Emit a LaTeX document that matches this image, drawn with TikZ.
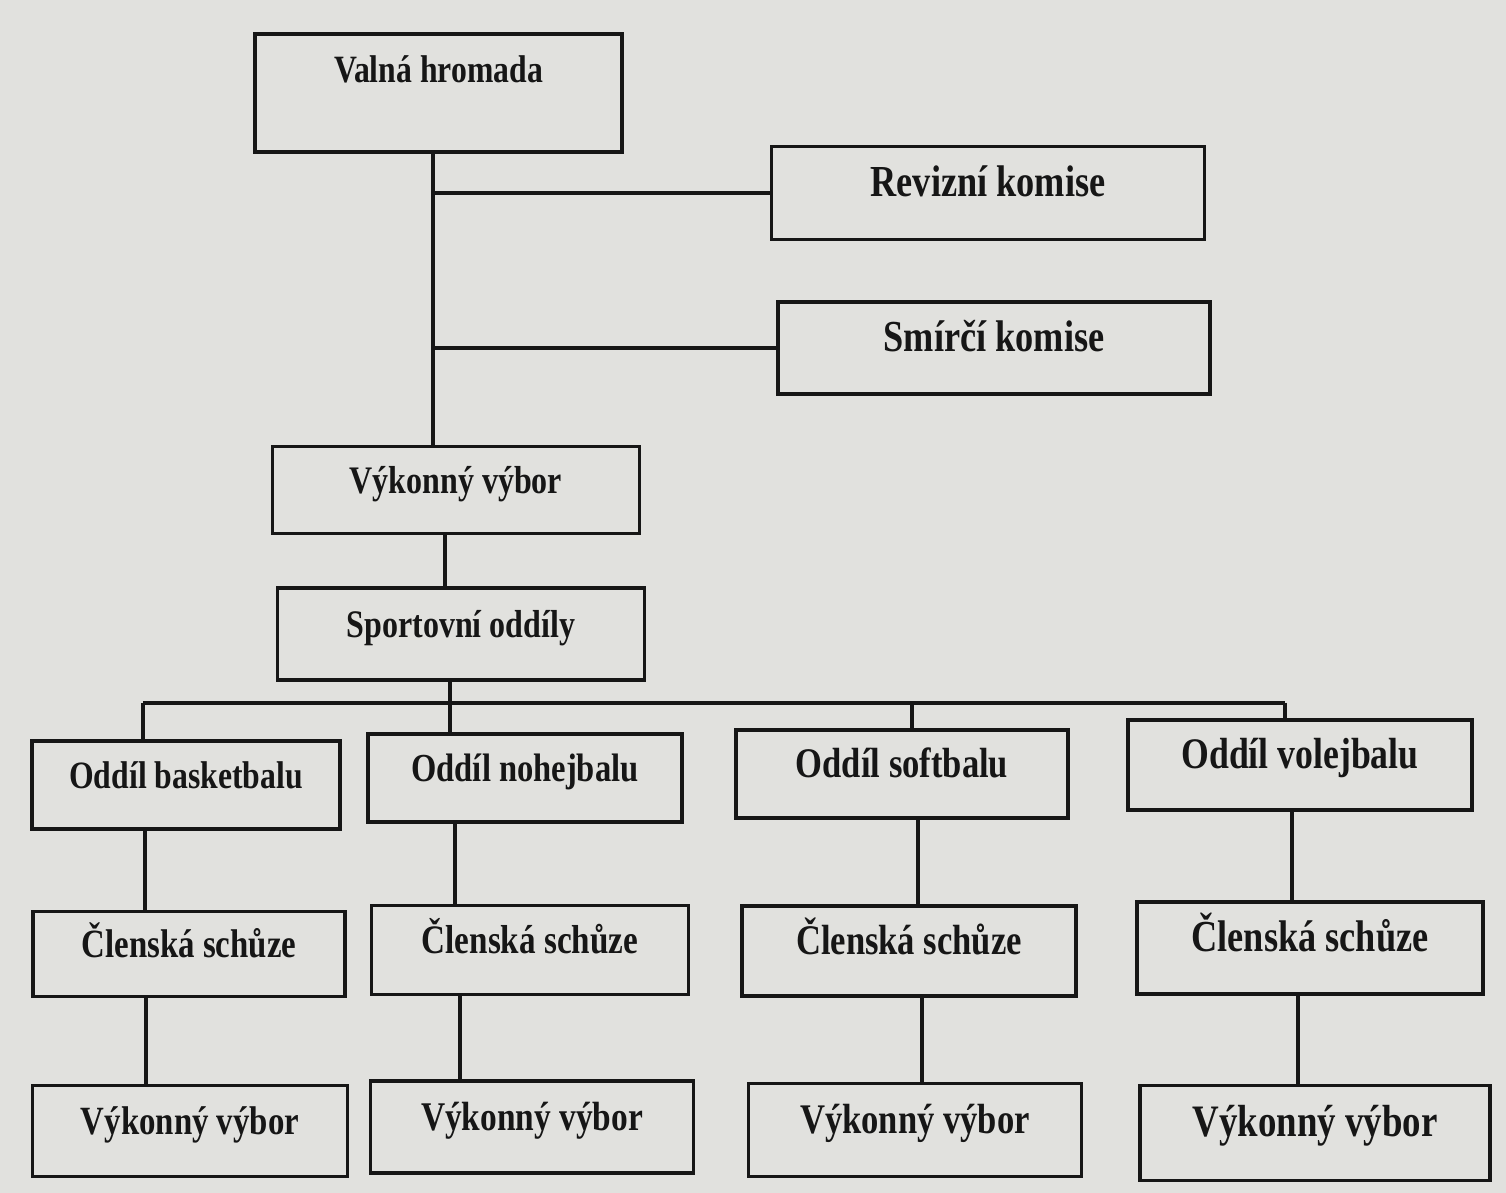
\documentclass[tikz,border=0pt]{standalone}
\usepackage{fontspec}
\setmainfont[FakeStretch=0.82]{Liberation Serif}
\definecolor{paper}{RGB}{225,225,222}
\definecolor{ink}{RGB}{22,22,22}
\tikzset{
  orgbox/.style={draw=ink, line width=1.1pt, rectangle, inner sep=0pt,
                 text=ink, text height=0.30cm, text depth=0.22cm,
                 font=\fontsize{11}{13}\selectfont\bfseries},
  fs/.style={font=\fontsize{#1}{#1}\selectfont\bfseries},
  boxtext/.style={inner sep=0pt, text=ink},
  link/.style={draw=ink, line width=1.1pt}
}
\begin{document}
\begin{tikzpicture}[x=1cm,y=1cm]
  % page
  \fill[paper] (0,0) rectangle (15.06,-11.93);
  \useasboundingbox (0,0) rectangle (15.06,-11.93);

  % top level
  \node[orgbox, minimum width=3.67cm, minimum height=1.18cm] (vh) at (4.385,-0.93) {};
  \node[boxtext, fs=11, anchor=base] (vhl) at ([yshift=-0.50cm]vh.north) {Valná hromada};
  \node[orgbox, fs=12.6, minimum width=4.33cm, minimum height=0.93cm] (rk) at (9.88,-1.93) {Revizní komise};
  \node[orgbox, fs=12.6, minimum width=4.32cm, minimum height=0.92cm] (sk) at (9.94,-3.48) {Smírčí komise};
  \node[orgbox, fs=11.1, minimum width=3.67cm, minimum height=0.87cm] (vv) at (4.56,-4.90) {Výkonný výbor};
  \node[orgbox, fs=11.1, minimum width=3.67cm, minimum height=0.92cm] (so) at (4.61,-6.34) {Sportovní oddíly};

  % sections
  \node[orgbox, fs=11.0, minimum width=3.08cm, minimum height=0.88cm] (ob) at (1.86,-7.85) {Oddíl basketbalu};
  \node[orgbox, fs=11.3, minimum width=3.14cm, minimum height=0.88cm] (on) at (5.25,-7.78) {Oddíl nohejbalu};
  \node[orgbox, fs=12.0, minimum width=3.32cm, minimum height=0.88cm] (os) at (9.02,-7.74) {Oddíl softbalu};
  \node[orgbox, fs=12.4, minimum width=3.44cm, minimum height=0.90cm] (ov) at (13.00,-7.65) {Oddíl volejbalu};

  % members' meetings
  \node[orgbox, fs=11.4, minimum width=3.12cm, minimum height=0.85cm] (cs1) at (1.89,-9.54) {Členská schůze};
  \node[orgbox, fs=11.5, minimum width=3.17cm, minimum height=0.89cm] (cs2) at (5.30,-9.50) {Členská schůze};
  \node[orgbox, fs=12.0, minimum width=3.34cm, minimum height=0.90cm] (cs3) at (9.09,-9.51) {Členská schůze};
  \node[orgbox, fs=12.6, minimum width=3.46cm, minimum height=0.92cm] (cs4) at (13.10,-9.48) {Členská schůze};

  % section committees
  \node[orgbox, fs=11.4, minimum width=3.15cm, minimum height=0.91cm] (vb1) at (1.90,-11.31) {Výkonný výbor};
  \node[orgbox, fs=11.6, minimum width=3.23cm, minimum height=0.92cm] (vb2) at (5.32,-11.27) {Výkonný výbor};
  \node[orgbox, fs=12.0, minimum width=3.33cm, minimum height=0.93cm] (vb3) at (9.15,-11.30) {Výkonný výbor};
  \node[orgbox, fs=12.8, minimum width=3.50cm, minimum height=0.95cm] (vb4) at (13.15,-11.33) {Výkonný výbor};

  % trunk and side branches
  \coordinate (trunk) at (4.33,0);
  \draw[link] (vh.south -| trunk) -- (vv.north -| trunk);
  \draw[link] (rk.west -| trunk) -- (rk.west);
  \draw[link] (sk.west -| trunk) -- (sk.west);

  \coordinate (mid) at (4.45,0);
  \draw[link] (vv.south -| mid) -- (so.north -| mid);

  % distribution bus to the sections
  \coordinate (bus) at (0,-7.03);
  \coordinate (d1) at (1.43,0);
  \coordinate (d2) at (4.50,0);
  \coordinate (d3) at (9.12,0);
  \coordinate (d4) at (12.85,0);
  \draw[link] (so.south -| d2) -- (bus -| d2);
  \draw[link] (bus -| d1) -- (bus -| d4);
  \draw[link] (bus -| d1) -- (ob.north -| d1);
  \draw[link] (bus -| d2) -- (on.north -| d2);
  \draw[link] (bus -| d3) -- (os.north -| d3);
  \draw[link] (bus -| d4) -- (ov.north -| d4);

  % section columns
  \coordinate (e1) at (1.45,0);
  \coordinate (e2) at (4.55,0);
  \coordinate (e3) at (9.18,0);
  \coordinate (e4) at (12.92,0);
  \draw[link] (ob.south -| e1) -- (cs1.north -| e1);
  \draw[link] (on.south -| e2) -- (cs2.north -| e2);
  \draw[link] (os.south -| e3) -- (cs3.north -| e3);
  \draw[link] (ov.south -| e4) -- (cs4.north -| e4);

  \coordinate (f1) at (1.46,0);
  \coordinate (f2) at (4.60,0);
  \coordinate (f3) at (9.22,0);
  \coordinate (f4) at (12.98,0);
  \draw[link] (cs1.south -| f1) -- (vb1.north -| f1);
  \draw[link] (cs2.south -| f2) -- (vb2.north -| f2);
  \draw[link] (cs3.south -| f3) -- (vb3.north -| f3);
  \draw[link] (cs4.south -| f4) -- (vb4.north -| f4);
\end{tikzpicture}
\end{document}
